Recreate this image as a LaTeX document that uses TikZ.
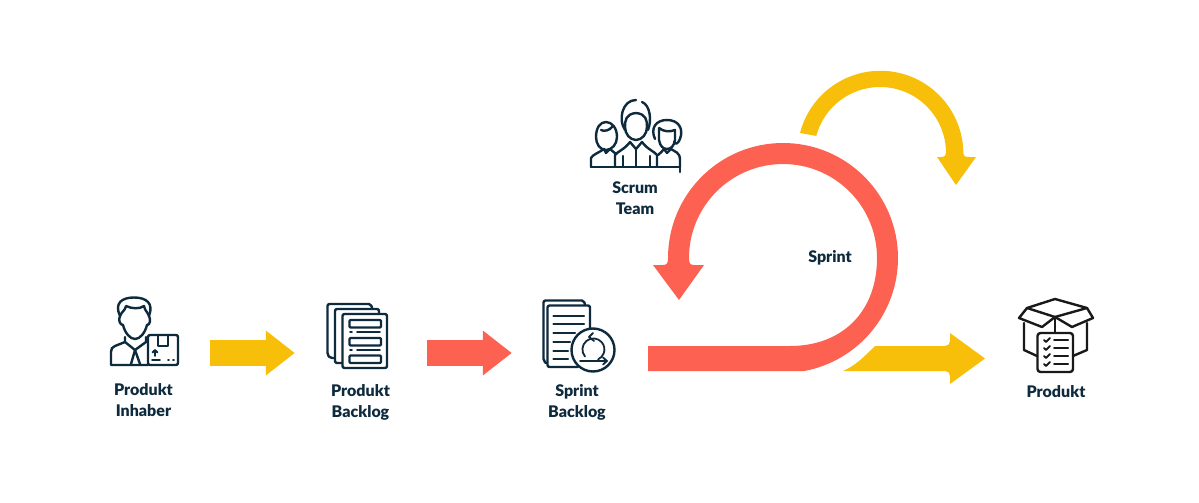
\documentclass[tikz,border=0pt]{standalone}
\usepackage{fontspec}
\setmainfont{Lato}[BoldFont=Lato Black]
\usetikzlibrary{arrows.meta, positioning}
\definecolor{scrumred}{HTML}{FC6152}
\definecolor{scrumyellow}{HTML}{F8BF0A}
\definecolor{scrumink}{HTML}{0E2A3D}

\begin{document}
\begin{tikzpicture}[
    x=1pt,
    y=-1pt,
    node distance=100pt,
    on grid,
    iconbox/.style={minimum width=70pt, minimum height=20pt, inner sep=0pt},
    caption/.style={font=\fontsize{16}{21}\selectfont\bfseries, text=scrumink, align=center, inner sep=0pt},
    flowarrow/.style={line width=26pt, -{Triangle[length=29pt, width=43pt]}},
    iconline/.style={draw=scrumink, line width=2.4pt, line cap=round, line join=round},
    boxline/.style={draw=black!90, line width=2.4pt, line cap=round, line join=round}
]
   \useasboundingbox (0,0) rectangle (1199,503);

   % Places of the icons
   \node[iconbox] (owner) at (144.5,353) {};
   \node[iconbox, right=212.5pt of owner] (pbacklog) {};
   \node[iconbox, right=222pt of pbacklog] (sbacklog) {};
   \node[iconbox, right=477pt of sbacklog] (product) {};

   % Captions
   \node[caption, below=47.5pt of owner, xshift=-1pt] (ownertext) {Produkt\\Inhaber};
   \node[caption, below=49.5pt of pbacklog, xshift=3.5pt] (pbacklogtext) {Produkt\\Backlog};
   \node[caption, below=49.5pt of sbacklog, xshift=-2pt] (sbacklogtext) {Sprint\\Backlog};
   \node[caption] (teamtext) at (635,198) {Scrum\\Team};
   \node[caption] (sprinttext) at (830,258) {Sprint};
   \node[caption, below=39pt of product] (producttext) {Produkt};

   % Straight arrows
   \draw[flowarrow, draw=scrumyellow, shorten <=30.5pt, shorten >=27pt] (owner) -- (pbacklog);
   \draw[flowarrow, draw=scrumred, shorten <=35pt, shorten >=32pt] (pbacklog) -- (sbacklog);

   % Sprint loop
   \fill[scrumred] (648,346) -- (790,346)
      .. controls (842,346) and (877,312) .. (877,258)
      arc[start angle=0, end angle=180, radius=94pt]
      .. controls (689,263) and (690,265) .. (694,265) -- (704,265) -- (679,300) -- (653,265) -- (663,265)
      .. controls (667,265) and (668,263) .. (668,258)
      arc[start angle=180, end angle=-79.5, radius=115pt]
      -- (648,371) -- cycle;

   % Daily loop
   \fill[scrumyellow] (800,133)
      arc[start angle=165.5, end angle=0, radius=83pt]
      .. controls (963,156) and (965,157) .. (970,157) -- (976,157) -- (956,185) -- (937,157) -- (941,157)
      .. controls (945,157) and (946,155) .. (946,153)
      arc[start angle=0, end angle=165, radius=66pt]
      -- cycle;

   % Arrow to the product
   \fill[scrumyellow] (843,371) .. controls (855,366) and (865,356) .. (875,346) -- (945,346)
      .. controls (948,346) and (950,344) .. (950,341) -- (950,333) -- (985,358.5) -- (950,384) -- (950,376)
      .. controls (950,373) and (948,371) .. (945,371) -- cycle;

   % Product owner
   \draw[iconline] (120,316) .. controls (114,303) and (122,297.5) .. (134,297.5)
      .. controls (146,297.5) and (154,303) .. (149,316);
   \draw[iconline] (120,316) .. controls (122,311) and (125,311) .. (126,306)
      .. controls (132,309) and (140,309) .. (144,306) .. controls (145,311) and (147,311) .. (149,316);
   \draw[iconline] (120,316) .. controls (118,320) and (120,325) .. (123,325)
      .. controls (125,333) and (130,339) .. (135,339) .. controls (140,339) and (145,333) .. (147,325)
      .. controls (150,325) and (151,320) .. (149,316);
   \draw[iconline] (125,337) -- (125,342) -- (115,346) .. controls (112,347) and (111,349) .. (111,352)
      -- (111,365) -- (148,365);
   \draw[iconline] (125,342) -- (135,350) -- (146,342) -- (146,337);
   \draw[iconline] (135,350) -- (131,364);
   \draw[iconline] (135,350) -- (140,364);
   \draw[iconline, rounded corners=2pt] (148,335) rectangle (178,365);
   \draw[iconline] (158,335) -- (158,346) -- (168,346) -- (168,335);
   \draw[iconline, line width=1.8pt] (155,356) -- (155,351) (152.5,352.5) -- (155,350) -- (157.5,352.5);
   \draw[iconline, line width=1.8pt] (152,360) -- (160,360) (168,360) -- (169,360) (173,360) -- (174,360);

   % Product backlog
   \draw[iconline, rounded corners=2pt] (334,358) -- (330,358) -- (327.5,355) -- (327.5,304) -- (371,304) -- (372,308);
   \draw[iconline, rounded corners=2pt] (342,363) -- (335,363) -- (335,309) -- (379,309) -- (379,313);
   \draw[iconline, rounded corners=2pt] (342.5,314) rectangle (387,368);
   \foreach \ytop in {320,338,355.5}
      \draw[iconline, rounded corners=1pt] (349.5,\ytop) rectangle (381,\ytop+7.5);
   \foreach \yrow in {332,350}
      \draw[iconline, line width=1.8pt] (350,\yrow) -- (352,\yrow) (357,\yrow) -- (380,\yrow);

   % Sprint backlog
   \draw[iconline, rounded corners=2pt] (546,363) -- (543.5,361) -- (543.5,300.5) -- (584,300.5) -- (585,305);
   \draw[iconline, rounded corners=2pt] (578,367) -- (547.5,367) -- (547.5,305.5) -- (590,305.5) -- (590,330);
   \foreach \yrow/\xend in {316/584,324/584,333/575,342/570,351/568,359/568}
      \draw[iconline] (553.5,\yrow) -- (\xend,\yrow);
   \draw[iconline, fill=white] (593,350) circle[radius=21.5pt];
   \draw[iconline, line width=1.8pt] (585,356.5) arc[start angle=220, end angle=-65, radius=11pt];
   \draw[iconline, line width=1.8pt] (593,333) -- (589,337) -- (594,341);
   \draw[iconline, line width=1.8pt] (580,361) -- (607,361) (603,357.5) -- (607,361) -- (603,364.5);

   % Scrum team
   \draw[iconline] (625,127) .. controls (625,120) and (626,114) .. (636,113)
      .. controls (646,114) and (647,120) .. (647,127)
      .. controls (647,134) and (642,140) .. (636,140) .. controls (630,140) and (625,134) .. (625,127);
   \draw[iconline] (625,130) .. controls (618,120) and (622,100) .. (636,100) (642,102)
      .. controls (650,105) and (652,120) .. (648,130);
   \draw[iconline] (596,137) .. controls (596,128) and (600,122) .. (606,122)
      .. controls (612,122) and (617,128) .. (617,137) .. controls (617,144) and (612,150) .. (606,150)
      .. controls (600,150) and (596,144) .. (596,137);
   \draw[iconline] (601,130) .. controls (604,132) and (610,130) .. (612,127);
   \draw[iconline] (655,139) .. controls (650,128) and (656,120) .. (667,120)
      .. controls (678,120) and (684,128) .. (680,139) .. controls (678,144) and (675,145) .. (674,142);
   \draw[iconline] (659,128) -- (659,140) .. controls (660,146) and (663,149) .. (667,149)
      .. controls (671,149) and (674,146) .. (675,140) -- (675,130) .. controls (670,132) and (664,132) .. (659,128);
   \draw[iconline] (591,167) -- (680,167) -- (680,172);
   \draw[iconline] (591,167) -- (591,158) .. controls (592,155) and (600,152) .. (604,149)
      -- (606,153) -- (610,149) .. controls (612,151) and (614,152) .. (616,154);
   \draw[iconline] (615,167) -- (615,155) .. controls (617,152) and (625,149) .. (630,142)
      -- (636,149) -- (642,142) .. controls (647,149) and (655,152) .. (657,155) -- (657,167);
   \draw[iconline] (623,156) -- (623,167) (650,156) -- (650,167) (636,150) -- (636,167);
   \draw[iconline] (658,155) .. controls (660,152) and (663,152) .. (664,149) -- (667,153) -- (671,149)
      .. controls (675,152) and (680,152) .. (680,160) -- (680,167);

   % Product
   \draw[boxline] (1027,308) -- (1055,299) -- (1087,308) -- (1055,317) -- cycle;
   \draw[boxline] (1027,308) -- (1019,318) -- (1042,327) -- (1055,317) -- (1072,327) -- (1093,318) -- (1087,308);
   \draw[boxline] (1024,323) -- (1024,350) -- (1037,356);
   \draw[boxline] (1087,323) -- (1087,350) -- (1073,356);
   \draw[boxline] (1055,317) -- (1055,332);
   \draw[boxline, rounded corners=3pt] (1037.5,333) rectangle (1073,372);
   \foreach \yrow in {340,348,356,364} {
      \draw[boxline, line width=2pt] (1044,\yrow) -- (1046,\yrow+2) -- (1050,\yrow-2);
      \draw[boxline, line width=2pt] (1054,\yrow) -- (1068,\yrow);
   }

\end{tikzpicture}
\end{document}
